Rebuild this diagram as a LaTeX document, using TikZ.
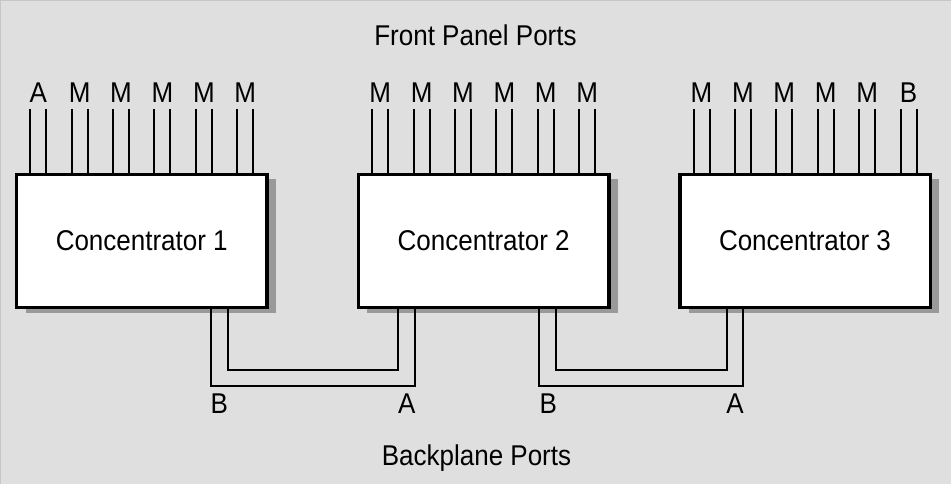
\documentclass[tikz,border=0pt]{standalone}
\usepackage{fontspec}
\usepackage{graphicx}
\setmainfont{Liberation Sans}
\usetikzlibrary{calc,shadows}
\definecolor{bg}{HTML}{DFDFDF}
\definecolor{shade}{HTML}{999999}
\newcommand\tallt[1]{\scalebox{1}[1.1]{#1}}
\begin{document}
\begin{tikzpicture}[x=1pt,y=-1pt,
  txt/.style={font=\fontsize{26}{30}\selectfont},
  conc/.style={draw, line width=3.5pt, fill=white, minimum width=250.5pt,
    minimum height=133pt, inner sep=0pt, txt,
    general shadow={fill=shade, shadow xshift=9pt, shadow yshift=-5pt}},
  pinline/.style={line width=2pt},
  wire/.style={line width=2pt},
  lbl/.style={txt, inner sep=0pt, anchor=base},
]
\fill[bg] (0,0) rectangle (951,484);
\useasboundingbox (0,0) rectangle (951,484);
\draw[gray!45, line width=0.8pt] (0.4,484) -- (0.4,0.4) -- (951,0.4);

\node[lbl] (front) at (475.5,46) {\tallt{Front Panel Ports}};
\node[lbl] (back) at (476.5,465) {\tallt{Backplane Ports}};

\node[conc] (c1) at (141.75,241) {\tallt{Concentrator 1}};
\node[conc] (c2) at (483.7,241) {\tallt{Concentrator 2}};
\node[conc] (c3) at (805,241) {\tallt{Concentrator 3}};

\foreach \nm/\labs in {c1/{A,M,M,M,M,M},c2/{M,M,M,M,M,M},c3/{M,M,M,M,M,B}}{
  \foreach \l [count=\k from 0] in \labs {
    \coordinate (\nm-pa\k) at ($(\nm.north)+({(\k-2.5)*41.4-8},-63.75)$);
    \coordinate (\nm-pb\k) at ($(\nm.north)+({(\k-2.5)*41.4+8},-63.75)$);
    \draw[pinline] (\nm-pa\k) -- (\nm-pa\k |- \nm.north);
    \draw[pinline] (\nm-pb\k) -- (\nm-pb\k |- \nm.north);
    \node[lbl] (\nm-l\k) at ($(\nm.north)+({(\k-2.5)*41.4},-69.75)$) {\tallt{\l}};
  }
}

% backplane links
\draw[wire] ($(c1.south)+(69,0)$) -- ++(0,77) -| ($(c2.south)+(-69,0)$);
\draw[wire] ($(c1.south)+(86,0)$) -- ++(0,60.5) -| ($(c2.south)+(-86,0)$);
\draw[wire] ($(c2.south)+(55.6,0)$) -- ++(0,77) -| ($(c3.south)+(-61.7,0)$);
\draw[wire] ($(c2.south)+(72.3,0)$) -- ++(0,60.5) -| ($(c3.south)+(-77.7,0)$);

\node[lbl] (b1) at ($(c1.south)+(77.5,104)$) {\tallt{B}};
\node[lbl] (a2) at ($(c2.south)+(-77,104)$) {\tallt{A}};
\node[lbl] (b2) at ($(c2.south)+(64.5,104)$) {\tallt{B}};
\node[lbl] (a3) at ($(c3.south)+(-70,104)$) {\tallt{A}};
\end{tikzpicture}
\end{document}
